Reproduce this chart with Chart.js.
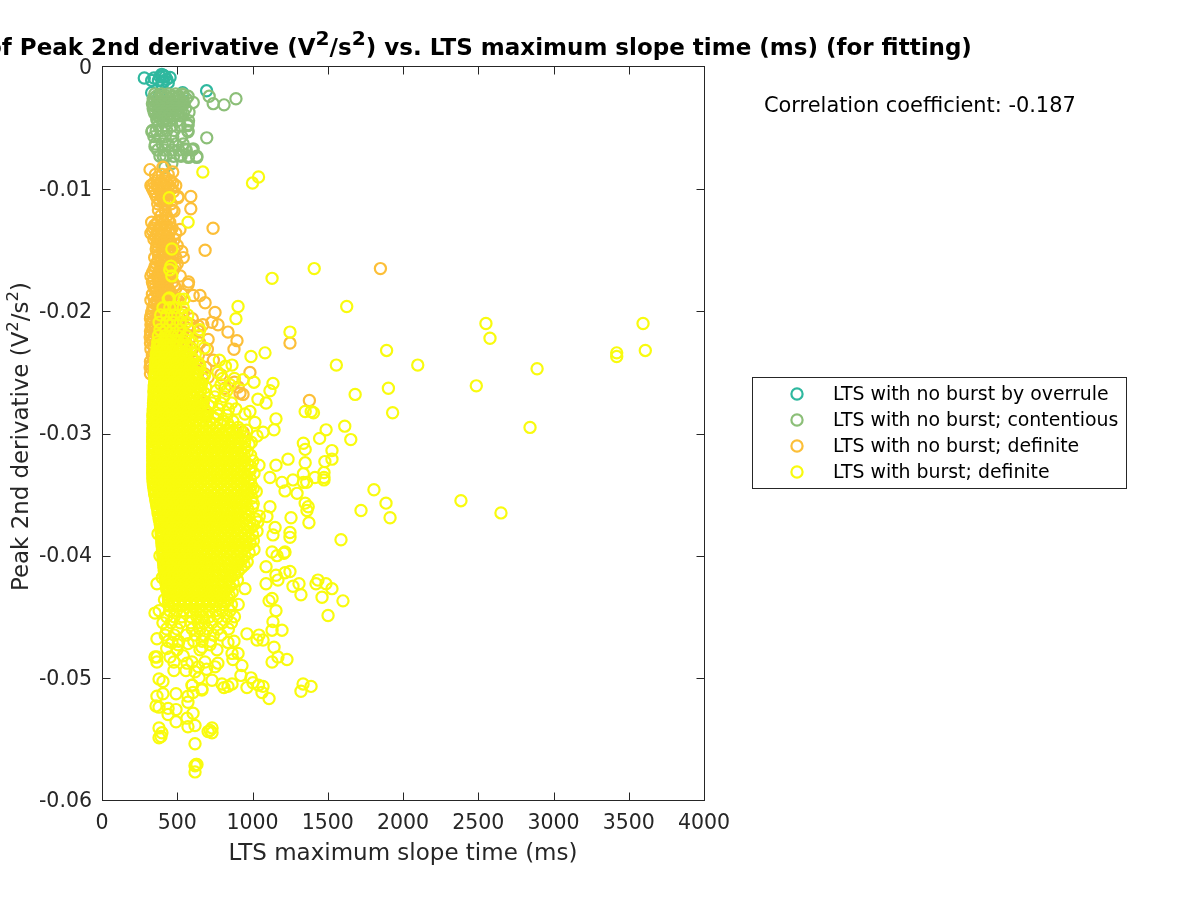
<!DOCTYPE html>
<html>
<head>
<meta charset="utf-8">
<title>Peak 2nd derivative vs. LTS maximum slope time</title>
<script src="https://cdn.jsdelivr.net/npm/chart.js@4"></script>
<style>
body { margin: 0; background: #fff; }
canvas { display: block; }
</style>
</head>
<body>
<canvas id="scatterChart" width="1200" height="900"></canvas>
<script>
var seriesNames = ["LTS with no burst by overrule", "LTS with no burst; contentious", "LTS with no burst; definite", "LTS with burst; definite"]
var seriesColors = ["#2fb89f", "#8cbf78", "#fcbf38", "#f9fb0e"]
var xTickLabels = ["0", "500", "1000", "1500", "2000", "2500", "3000", "3500", "4000"]
var yTickLabels = ["-0.06", "-0.05", "-0.04", "-0.03", "-0.02", "-0.01", "0"]

// [time (ms), peak (V^2/s^2)]
var overrulePoints = [[281,-.0009],[330,-.0011],[345,-.0009],[397,-.0006],[452,-.00085],[420,-.0008],[375,-.0011],[405,-.0012],[385,-.0008],[430,-.001],[400,-.0015],[440,-.0013],[330,-.0021],[380,-.0023],[536,-.0021],[695,-.00195],[410,-.0007]]

var contentiousPoints = [[540,-.0023],[572,-.0024],[606,-.0029],[712,-.0024],[739,-.003],[811,-.0031],[890,-.0026],[696,-.0058],[578,-.0037],[572,-.0047],[572,-.0053],[331,-.0053],[364,-.0043],[352,-.0065],[630,-.0074],[574,-.0074],[552,-.0067],[606,-.0067],[518,-.0072],[407,-.0073],[464,-.0079],[418,-.0082]]
// crowded part of the contentious cloud, one row per peak value: [peak, [times]]
var contentiousRows = [
[-.0022,[350,395,440,490,535]],
[-.0024,[360,400,430,470,510]],
[-.0026,[340,375,410,450,490,520,560]],
[-.0028,[350,385,420,460,500,535]],
[-.003,[335,365,400,435,470,510,545]],
[-.0032,[345,380,420,455,490,530]],
[-.0034,[340,372,405,445,480,515,555]],
[-.0036,[345,375,412,450,490,525]],
[-.0038,[350,385,420,460,500,540]],
[-.004,[370,405,440,480,520]],
[-.0042,[385,430,470]],
[-.0044,[370,410,450,500,575]],
[-.0048,[375,420,465,520,570]],
[-.0052,[335,360,395,430,480,570]],
[-.0057,[345,385,420,470,530]],
[-.0063,[355,400,440,490,540]],
[-.0068,[370,415,465,510,560,600]],
[-.0073,[385,425,475,525,575,630]]
]

var definitePoints = [[319,-.0084],[405,-.0082],[470,-.0086],[330,-.0097],[505,-.0106],[590,-.0106],[590,-.0116],[478,-.0118],[518,-.0133],[738,-.0132],[685,-.015],[572,-.0178],[606,-.0187],[651,-.0187],[685,-.0193],[751,-.0201],[730,-.0209],[771,-.0211],[837,-.0217],[897,-.0224],[877,-.0231],[1249,-.0226],[983,-.025],[937,-.0268],[1378,-.0273],[937,-.0299],[1850,-.0165],[790,-.0252],[880,-.0258],[640,-.0212],[705,-.0223],[740,-.024],[705,-.0254],[817,-.0263],[672,-.0275],[697,-.0285],[917,-.0267],[905,-.0262]]
var definiteRows = [
[-.0088,[355,400,440]],
[-.009,[375,420]],
[-.0093,[365,410,455]],
[-.0095,[345,385,430,470]],
[-.0097,[325,365,405,445,490]],
[-.00995,[335,375,420,460]],
[-.0102,[345,385,430,475]],
[-.01045,[355,395,437]],
[-.0107,[365,400,445,505]],
[-.011,[385,430]],
[-.0112,[370,415,460]],
[-.0117,[375,420,465]],
[-.0122,[390,430]],
[-.0125,[400,440]],
[-.0127,[330,370,410,450]],
[-.01295,[350,390,430]],
[-.0132,[345,385,425,465]],
[-.0134,[335,375,415,455]],
[-.0136,[325,365,405,445,490]],
[-.0139,[355,395,440]],
[-.0141,[345,390,430,480]],
[-.01435,[368,408,455]],
[-.0146,[365,410,450,500]],
[-.0149,[360,400,440,480]],
[-.0151,[370,415,460,530]],
[-.0154,[375,420,465]],
[-.0156,[350,395,440,490,540]],
[-.01585,[372,415,460]],
[-.0161,[360,405,450,500]],
[-.01635,[352,395,440,485]],
[-.0166,[345,385,430,475]],
[-.01685,[335,378,420,465]],
[-.0171,[325,370,410,455,520]],
[-.01735,[345,390,435]],
[-.0176,[335,380,425,470,575]],
[-.0179,[342,385,430,480]],
[-.0181,[350,395,440,490]],
[-.01835,[358,405,450]],
[-.0186,[335,375,420,465,530]],
[-.0189,[345,390,440,490]],
[-.0191,[325,365,410,455,505]],
[-.01935,[350,395,440,480]],
[-.0196,[340,385,430,480]],
[-.0199,[335,380,425,470]],
[-.0201,[330,375,420,470,540]],
[-.0204,[325,370,415,465]],
[-.0206,[322,365,410,460,520,600]],
[-.0209,[330,380,430,480,560]],
[-.0211,[325,355,400,450,510,590,670]],
[-.0214,[335,385,440,500]],
[-.0216,[322,365,415,470,540,640]],
[-.0219,[325,370,420,470,530]],
[-.0221,[320,345,390,440,500,590]],
[-.0224,[335,385,440,510]],
[-.0226,[322,360,410,470,560,650]],
[-.0229,[345,395,450,530]],
[-.0231,[325,370,420,490,600,700]],
[-.0234,[355,410,470]],
[-.0236,[335,385,450,540,640]],
[-.0239,[345,400,460]],
[-.0241,[322,370,430,520,620]],
[-.0244,[325,370,430]],
[-.0246,[320,345,400,480,580,690]],
[-.0251,[322,345,380,450,560,680]]
]

var burstPoints = [[3595,-.021],[3610,-.0232],[3420,-.0234],[3420,-.0237],[2891,-.0247],[2551,-.021],[2578,-.0222],[2487,-.0261],[2844,-.0295],[2098,-.0244],[1891,-.0232],[1903,-.0263],[1931,-.0283],[1682,-.0268],[1557,-.0244],[1626,-.0196],[1410,-.0165],[1130,-.0173],[1040,-.009],[1000,-.0095],[670,-.0086],[447,-.0107],[572,-.0127],[464,-.0149],[458,-.0163],[464,-.0171],[450,-.0166],[447,-.0189],[890,-.0206],[904,-.0196],[1249,-.0217],[1083,-.0234],[990,-.0237],[864,-.0244],[1136,-.0259],[1116,-.0265],[1036,-.0272],[1090,-.0275],[1010,-.0258],[937,-.0256],[1156,-.0288],[1143,-.0297],[1070,-.0299],[1030,-.0302],[977,-.0309],[1016,-.0291],[983,-.0282],[950,-.0284],
[1350,-.0282],[1390,-.0282],[1405,-.0283],[1489,-.0297],[1613,-.0294],[1653,-.0305],[1446,-.0304],[1338,-.0308],[1350,-.0313],[1528,-.0314],[1528,-.0321],[1481,-.0323],[1350,-.0324],[1338,-.0333],[1475,-.0332],[1415,-.0336],[1475,-.0338],[1475,-.0336],[1360,-.034],[1338,-.034],[1807,-.0346],[1887,-.0357],[1721,-.0363],[1914,-.0369],[2385,-.0355],[2651,-.0365],[1350,-.0357],[1370,-.036],[1362,-.0363],[1375,-.0373],[1588,-.0387],
[1236,-.0321],[1156,-.0326],[1043,-.0326],[1116,-.0336],[1196,-.034],[1269,-.0338],[1216,-.0347],[1296,-.0349],[1256,-.0369],[1116,-.036],[1096,-.0368],[1150,-.0377],[1136,-.0383],[1249,-.0381],[1249,-.0385],[1216,-.0397],[1130,-.0397],[1209,-.0398],[1163,-.04],[1090,-.0409],[1249,-.0413],[1216,-.0414],[1156,-.0416],[1169,-.042],[1090,-.0423],[1269,-.0425],[1309,-.0423],[1322,-.0432],[1422,-.0423],[1435,-.042],[1488,-.0423],[1528,-.0427],[1462,-.0434],[1601,-.0437],[1502,-.0449],[950,-.0427],[1130,-.0435],[1110,-.0437],[1156,-.0445],[1136,-.0454],[1130,-.0461],[1196,-.0461],[1143,-.0475],[1169,-.0483],[1229,-.0485],[1130,-.0487],[963,-.0464],[1043,-.0465],[1030,-.0469],[1070,-.0469],[877,-.047],[837,-.0471],[904,-.048],[864,-.048],[870,-.0485],[930,-.049],[923,-.0498],[990,-.05],[963,-.0508],[1003,-.0504],[1040,-.0506],[1070,-.0507],[1063,-.0512],[1110,-.0517],[1336,-.0505],[1322,-.0511],[1389,-.0507],
[797,-.0505],[810,-.0508],[837,-.0507],[864,-.0505],[731,-.0502],[664,-.051],[600,-.0506],[645,-.05],[764,-.0477],[751,-.0491],[770,-.0488],[684,-.0487],[571,-.0515],[571,-.052],[492,-.0513],[405,-.0513],[365,-.0515],[405,-.0503],[379,-.0501],[365,-.0468],[352,-.0483],[365,-.0487],[365,-.0483],[352,-.0447],[365,-.0423],[359,-.0523],[379,-.0524],[439,-.053],[439,-.0525],[492,-.0526],[492,-.0536],[571,-.054],[618,-.0539],[605,-.0529],[565,-.0533],[379,-.0541],[398,-.0545],[379,-.0549],[392,-.0548],[718,-.0543],[731,-.0541],[731,-.0545],[705,-.0544],[618,-.0554],[625,-.0571],[618,-.0572],[618,-.0577],[631,-.0571],
[465,-.0471],[505,-.0473],[498,-.0477],[572,-.0472],[452,-.0483],[478,-.0487],[478,-.0494],[558,-.0494],[565,-.0488],[598,-.0487],[618,-.0495],[651,-.0477],[664,-.0475],[718,-.0473],[598,-.0506],[664,-.0509],[605,-.0512],[640,-.0491],[540,-.0482],[430,-.0476],[695,-.0493],[385,-.04],[372,-.0382],[400,-.0418],[415,-.0436],[380,-.0445]]
var burstRows = [
[-.019,[440,520,545]],
[-.0197,[405,450,490,540]],
[-.0203,[390,430,480,530,570]],
[-.0209,[380,430,470,520,560]],
[-.0215,[385,425,470,520,580,650]],
[-.022,[375,420,460,505,560,640]],
[-.0225,[370,410,450,495,540,600]],
[-.023,[365,405,445,490,530,590,680]],
[-.0235,[360,400,440,480,520,565,620]],
[-.024,[358,395,435,475,515,555,605,780]],
[-.0245,[355,385,425,465,505,545,590,650,820]],
[-.025,[355,380,420,460,500,540,580,630,770]],
[-.0255,[350,375,415,455,495,535,575,620,670,800,880]],
[-.026,[348,370,410,450,490,530,570,615,660,790,850]],
[-.0265,[345,365,405,445,485,525,565,610,655,760,830]],
[-.027,[345,360,400,440,480,520,560,600,650,750,810]],
[-.0275,[342,355,395,435,475,515,555,595,640,730,790,860]],
[-.028,[340,350,390,430,470,510,550,590,635,680,775,840,890]],
[-.0285,[338,345,385,425,465,505,545,585,630,675,770,830]],
[-.029,[338,380,420,460,500,540,580,625,670,715,810,870]],
[-.0295,[338,345,385,425,465,505,545,585,628,672,716,762,850,905]],
[-.03,[337,380,420,460,500,540,580,622,665,708,752,796,840,890]],
[-.0305,[337,376,416,456,496,536,576,618,660,702,746,790,834,880,925]],
[-.031,[337,380,420,460,500,540,580,624,668,712,756,800,846,892]],
[-.0315,[337,374,414,454,494,534,574,616,658,700,744,788,832,876,922,965]],
[-.032,[337,378,418,458,498,538,578,620,664,708,752,796,840,886,930]],
[-.0325,[337,372,412,452,492,532,572,614,656,698,742,786,830,874,920,968]],
[-.033,[337,376,416,456,496,536,576,618,660,704,748,792,836,882,926,985]],
[-.0335,[338,370,410,450,490,530,570,612,654,696,740,784,828,872,918,962]],
[-.034,[340,375,415,455,495,535,575,617,659,703,747,791,835,880,925,975]],
[-.0345,[345,372,412,452,492,532,572,614,656,700,744,788,832,876,920,960,1005]],
[-.035,[350,380,420,460,500,540,580,622,664,706,750,794,838,884,930,970]],
[-.0355,[358,390,430,470,510,550,590,632,674,716,760,804,848,890,935]],
[-.036,[365,396,436,476,516,556,596,638,680,722,766,810,852,896,940,1000]],
[-.0365,[372,406,444,484,524,564,604,646,688,730,774,816,860,905,950]],
[-.037,[380,414,452,492,532,572,612,654,696,738,782,826,868,910,955,1020]],
[-.0375,[388,420,458,498,538,578,618,660,702,744,786,830,872,915,960,1005]],
[-.038,[392,426,464,504,544,584,624,666,708,750,792,836,878,922,968,1030]],
[-.0385,[396,430,468,508,548,588,628,670,712,754,796,840,882,926,975]],
[-.039,[398,434,472,512,552,592,632,674,716,758,800,844,888,934,985]],
[-.0395,[402,438,476,516,556,596,636,678,720,762,804,848,892,940,1010]],
[-.04,[404,442,480,520,560,600,640,682,724,766,810,855,900,950]],
[-.0405,[408,446,484,524,564,604,644,686,728,770,815,860,910,965]],
[-.041,[412,450,488,528,568,608,648,690,732,776,822,870,925]],
[-.0415,[416,454,492,532,572,612,652,694,736,782,830,885]],
[-.042,[422,460,498,538,578,618,658,700,742,790,840,900]],
[-.0425,[430,468,506,546,586,626,666,708,752,800,850]],
[-.043,[440,478,516,556,596,636,676,718,765,815,865]],
[-.0435,[442,490,530,570,610,650,690,735,785,835]],
[-.044,[445,470,510,550,590,630,672,715,760,810,860,905]],
[-.0445,[450,495,540,585,625,665,710,755,800,850]],
[-.045,[430,480,530,590,630,670,715,770,830,880]],
[-.0455,[405,460,520,590,640,680,730,800,860]],
[-.046,[430,500,600,650,700,770,840]],
[-.0465,[420,480,560,620,680,740,790]],
[-.047,[440,510,610,665,720]],
// second pass through the solid middle of the cloud
[-.02275,[372,388,431,472,518,563]],
[-.02325,[367,383,426,468,512,558]],
[-.02375,[362,379,419,462,503,549,597]],
[-.02425,[358,374,413,457,497,541,589,643]],
[-.02475,[355,368,407,449,491,533,582,636]],
[-.02523,[352,362,403,441,482,524,571,625,681]],
[-.02578,[350,357,396,437,476,519,558,603,652]],
[-.02622,[347,351,389,432,471,513,552,597,646,689]],
[-.02671,[346,384,425,466,507,546,588,633,681]],
[-.02728,[344,379,418,459,501,541,583,627,672]],
[-.02773,[342,373,413,453,495,534,576,621,663,709]],
[-.02826,[340,367,408,448,489,529,569,612,657,701]],
[-.02869,[339,363,403,441,483,523,563,606,651,694,741]],
[-.02918,[338,358,398,437,478,517,558,601,646,692,737,785,836]],
[-.02974,[338,362,401,443,481,522,564,607,649,693,735,781,827,872,921,961]],
[-.03027,[337,357,396,439,476,518,559,599,643,686,729,773,819,862,907,952]],
[-.03072,[337,355,393,435,472,514,555,596,638,681,724,768,812,857,903,948,992]],
[-.03123,[337,353,397,438,476,517,558,597,640,684,727,771,815,860,906,951]],
[-.03177,[337,351,392,433,473,515,553,594,637,679,722,765,809,853,899,943,987]],
[-.03224,[337,354,396,437,477,518,557,598,641,686,730,774,818,863,908,949,1002]],
[-.03272,[337,350,391,432,471,511,551,593,635,677,720,764,808,852,897,944,990]],
[-.03326,[337,355,394,435,474,516,556,597,639,682,726,770,814,858,904,947,1010]],
[-.03374,[338,352,389,431,469,509,549,591,633,675,718,762,806,851,895,941,986]],
[-.03423,[342,356,393,436,473,513,554,595,638,681,725,769,813,857,902,946,992]],
[-.03475,[348,352,391,432,471,512,552,593,634,678,722,766,810,855,899,943,985,1025]],
[-.03528,[356,360,399,440,479,520,560,601,643,685,728,772,816,861,907,950,996]],
[-.03574,[362,370,410,450,490,531,570,611,653,695,738,782,826,869,913,958,1005]],
[-.03623,[370,377,416,456,497,536,576,617,659,701,744,788,831,875,918,970]],
[-.03676,[378,387,425,464,504,544,584,625,667,709,752,796,839,883,928,976,1045]],
[-.03725,[385,395,433,472,512,552,592,633,675,717,760,804,847,889,933,982,1035]],
[-.03773,[390,401,439,478,518,558,598,639,681,723,765,808,851,894,938,988]],
[-.03826,[394,407,445,484,524,564,604,645,687,729,771,814,857,900,945,1000]],
[-.03877,[397,411,449,488,528,568,608,649,691,733,775,818,861,904,950,1006]],
[-.03924,[400,415,453,492,532,572,612,653,695,737,779,822,866,911,960]],
[-.03976,[403,419,457,496,536,576,616,657,699,741,785,830,875,923,978]],
[-.04027,[406,423,461,500,540,580,620,661,703,745,789,834,882,932]],
[-.04076,[410,427,465,504,544,584,624,665,707,749,794,842,892,945]],
[-.04125,[414,431,469,508,548,588,628,669,711,755,802,851,905]],
[-.04173,[419,435,473,512,552,592,632,673,715,761,809,860]],
[-.04224,[424,441,479,518,558,598,638,679,723,769,818,872]],
[-.04276,[430,449,487,526,566,606,646,687,733,779,830]],
[-.04325,[438,459,497,536,576,616,656,697,745,794,845]],
[-.04375,[442,470,510,550,590,630,670,712,758,808]]
]

function flattenRows(rows) {
    var points = []
    rows.forEach(function (row) {
        row[1].forEach(function (time) {
            points.push({x: time, y: row[0]})
        })
    })
    return points
}

function toXY(pairs) {
    return pairs.map(function (p) { return {x: p[0], y: p[1]} })
}

function makeSeries(i, points) {
    return {
        label: seriesNames[i],
        data: points,
        borderColor: seriesColors[i],
        backgroundColor: "transparent",
        pointRadius: 5.6,
        pointBorderWidth: 2.2,
        pointHoverRadius: 5.6,
        order: 4 - i
    }
}

// text with raised 2s, drawn left to right from the current origin
function drawRuns(ctx, runs, size, weight, supScale) {
    var x = 0
    ctx.textAlign = "left"
    ctx.textBaseline = "alphabetic"
    runs.forEach(function (run) {
        var s = run[1] ? size * supScale : size
        ctx.font = weight + " " + s + "px 'DejaVu Sans'"
        ctx.fillText(run[0], x, run[1] ? -size * 0.42 : 0)
        x += ctx.measureText(run[0]).width
    })
}

var annotations = {
    id: "annotations",
    afterDraw: function (chart) {
        var ctx = chart.ctx
        var area = chart.chartArea
        var left = Math.round(area.left) + 0.5
        var right = Math.round(area.right) + 0.5
        var top = Math.round(area.top) - 0.5
        var bottom = Math.round(area.bottom) + 0.5

        // box and inward ticks on all four sides
        ctx.save()
        ctx.strokeStyle = "#262626"
        ctx.lineWidth = 1
        ctx.strokeRect(left, top, right - left, bottom - top)
        ctx.beginPath()
        chart.scales.x.ticks.forEach(function (t) {
            var px = Math.round(chart.scales.x.getPixelForValue(t.value)) + 0.5
            ctx.moveTo(px, bottom); ctx.lineTo(px, bottom - 8)
            ctx.moveTo(px, top); ctx.lineTo(px, top + 8)
        })
        chart.scales.y.ticks.forEach(function (t) {
            var py = Math.round(chart.scales.y.getPixelForValue(t.value))
            py = t.value === 0 ? top : py + 0.5
            ctx.moveTo(left, py); ctx.lineTo(left + 8, py)
            ctx.moveTo(right, py); ctx.lineTo(right - 8, py)
        })
        ctx.stroke()
        ctx.restore()

        // title, cut off by the left edge of the figure as in the original
        ctx.save()
        ctx.fillStyle = "#000"
        ctx.translate(-14, 55)
        drawRuns(ctx, [["of Peak 2nd derivative (V"], ["2", 1], ["/s"], ["2", 1], [") vs. LTS maximum slope time (ms) (for fitting)"]], 23, "bold", 0.88)
        ctx.restore()

        // y axis label
        ctx.save()
        ctx.fillStyle = "#262626"
        ctx.translate(28, 591)
        ctx.rotate(-Math.PI / 2)
        drawRuns(ctx, [["Peak 2nd derivative (V"], ["2", 1], ["/s"], ["2", 1], [")"]], 22.9, "normal", 0.72)
        ctx.restore()

        // correlation note
        ctx.save()
        ctx.fillStyle = "#000"
        ctx.font = "20.9px 'DejaVu Sans'"
        ctx.textAlign = "left"
        ctx.textBaseline = "middle"
        ctx.fillText("Correlation coefficient: -0.187", 764, 106.5)
        ctx.restore()

        // legend box
        ctx.save()
        ctx.strokeStyle = "#262626"
        ctx.lineWidth = 1
        ctx.fillStyle = "#fff"
        ctx.fillRect(752.5, 377.5, 374, 111)
        ctx.strokeRect(752.5, 377.5, 374, 111)
        ctx.font = "18.9px 'DejaVu Sans'"
        ctx.textAlign = "left"
        ctx.textBaseline = "middle"
        chart.data.datasets.forEach(function (ds, i) {
            var rowY = 394 + i * 26
            ctx.beginPath()
            ctx.arc(797, rowY, 5.6, 0, Math.PI * 2)
            ctx.strokeStyle = ds.borderColor
            ctx.lineWidth = 2.2
            ctx.stroke()
            ctx.fillStyle = "#000"
            ctx.fillText(ds.label, 833, rowY + 1)
        })
        ctx.restore()
    }
}

var getScatterChart = document.getElementById("scatterChart")

var scatterChart = new Chart(getScatterChart, {
    type: "scatter",
    data: {
        datasets: [
            makeSeries(0, toXY(overrulePoints)),
            makeSeries(1, toXY(contentiousPoints).concat(flattenRows(contentiousRows))),
            makeSeries(2, toXY(definitePoints).concat(flattenRows(definiteRows))),
            makeSeries(3, toXY(burstPoints).concat(flattenRows(burstRows)))
        ]
    },
    options: {
        responsive: false,
        animation: false,
        layout: {padding: {left: 0, right: 496, top: 67, bottom: 32}},
        plugins: {legend: {display: false}, tooltip: {enabled: false}},
        scales: {
            x: {
                type: "linear",
                min: 0,
                max: 4000,
                afterFit: function (s) { s.height = 68 },
                grid: {display: false},
                border: {display: false},
                ticks: {
                    stepSize: 500,
                    autoSkip: false,
                    maxRotation: 0,
                    padding: 3,
                    color: "#262626",
                    font: {family: "DejaVu Sans", size: 20.5},
                    callback: function (v, i) { return xTickLabels[i] }
                },
                title: {
                    display: true,
                    text: "LTS maximum slope time (ms)",
                    color: "#262626",
                    padding: 0,
                    font: {family: "DejaVu Sans", size: 23}
                }
            },
            y: {
                type: "linear",
                min: -0.06,
                max: 0,
                afterFit: function (s) { s.width = 102 },
                grid: {display: false},
                border: {display: false},
                ticks: {
                    stepSize: 0.01,
                    autoSkip: false,
                    padding: 2,
                    labelOffset: 1.5,
                    color: "#262626",
                    font: {family: "DejaVu Sans", size: 20.5},
                    callback: function (v, i) { return yTickLabels[i] }
                }
            }
        }
    },
    plugins: [annotations]
})
</script>
</body>
</html>
